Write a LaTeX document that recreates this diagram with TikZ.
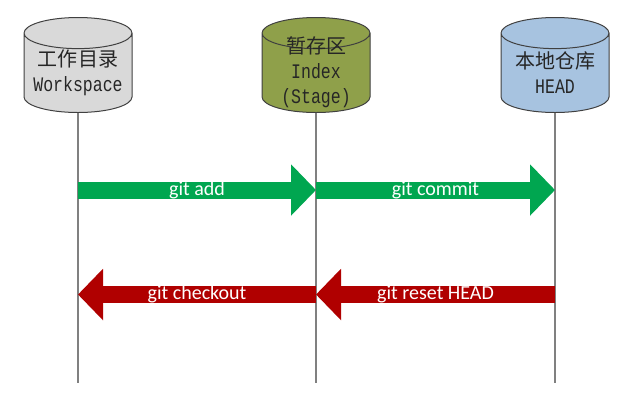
\documentclass[tikz,border=0pt]{standalone}
\usepackage{fontspec}
\setmainfont{Carlito}
\newfontfamily\cjkfont{Noto Sans CJK SC}
\newfontfamily\latinmono[FakeStretch=0.8]{Liberation Mono}
\usetikzlibrary{shapes.geometric, arrows.meta}

\definecolor{wsgray}{HTML}{D9D9D9}
\definecolor{idxolive}{HTML}{8FA04A}
\definecolor{repoblue}{HTML}{A7C3E0}
\definecolor{edgegray}{HTML}{404040}
\definecolor{linegray}{HTML}{808080}
\definecolor{addgreen}{HTML}{00A650}
\definecolor{resetred}{HTML}{B00000}

\newcommand{\zh}[1]{{\cjkfont\fontsize{15}{18.75}\selectfont #1}}

\tikzset{
  store/.style={cylinder, shape border rotate=90, draw=edgegray, line width=0.75pt,
    minimum width=81pt, minimum height=71.25pt, aspect=3.5, anchor=south},
  storetext/.style={align=center, text=black!85, inner sep=0pt,
    font=\latinmono\fontsize{15.5}{18.75}\selectfont},
  life/.style={draw=linegray, line width=1.1pt},
  fwd/.style={draw=addgreen, line width=12.75pt, -{Triangle[width=37.5pt, length=18.75pt]}},
  back/.style={draw=resetred, line width=12.75pt, -{Triangle[width=37.5pt, length=18.75pt]}},
  cmd/.style={text=white, font=\fontsize{15}{18}\selectfont}
}

\begin{document}
\begin{tikzpicture}[x=0.75pt, y=-0.75pt]
      \useasboundingbox (0,0) rectangle (641,401);

      % Stores
      \node[store, fill=wsgray] (ws) at (78, 113) {};
      \node[store, fill=idxolive] (idx) at (316, 113) {};
      \node[store, fill=repoblue] (repo) at (555, 113) {};

      \node[storetext] (wstext) at (78, 72.5) {\zh{工作目录}\\Workspace};
      \node[storetext] (idxtext) at (316, 72) {\zh{暂存区}\\Index\\(Stage)};
      \node[storetext] (repotext) at (555, 72.5) {\zh{本地仓库}\\HEAD};

      % Lifelines
      \coordinate (wsend) at (ws.south |- 0, 383);
      \coordinate (idxend) at (idx.south |- 0, 383);
      \coordinate (repoend) at (repo.south |- 0, 383);
      \draw[life] (ws.south) -- (wsend);
      \draw[life] (idx.south) -- (idxend);
      \draw[life] (repo.south) -- (repoend);

      % Commands
      \coordinate (wsadd) at (ws.south |- 0, 190);
      \coordinate (idxadd) at (idx.south |- 0, 190);
      \coordinate (repoadd) at (repo.south |- 0, 190);
      \coordinate (wsreset) at (ws.south |- 0, 294.5);
      \coordinate (idxreset) at (idx.south |- 0, 294.5);
      \coordinate (reporeset) at (repo.south |- 0, 294.5);

      \draw[fwd] (wsadd) -- node[cmd] {git add} (idxadd);
      \draw[fwd] (idxadd) -- node[cmd] {git commit} (repoadd);
      \draw[back] (idxreset) -- node[cmd] {git checkout} (wsreset);
      \draw[back] (reporeset) -- node[cmd] {git reset HEAD} (idxreset);

    \end{tikzpicture}
\end{document}
